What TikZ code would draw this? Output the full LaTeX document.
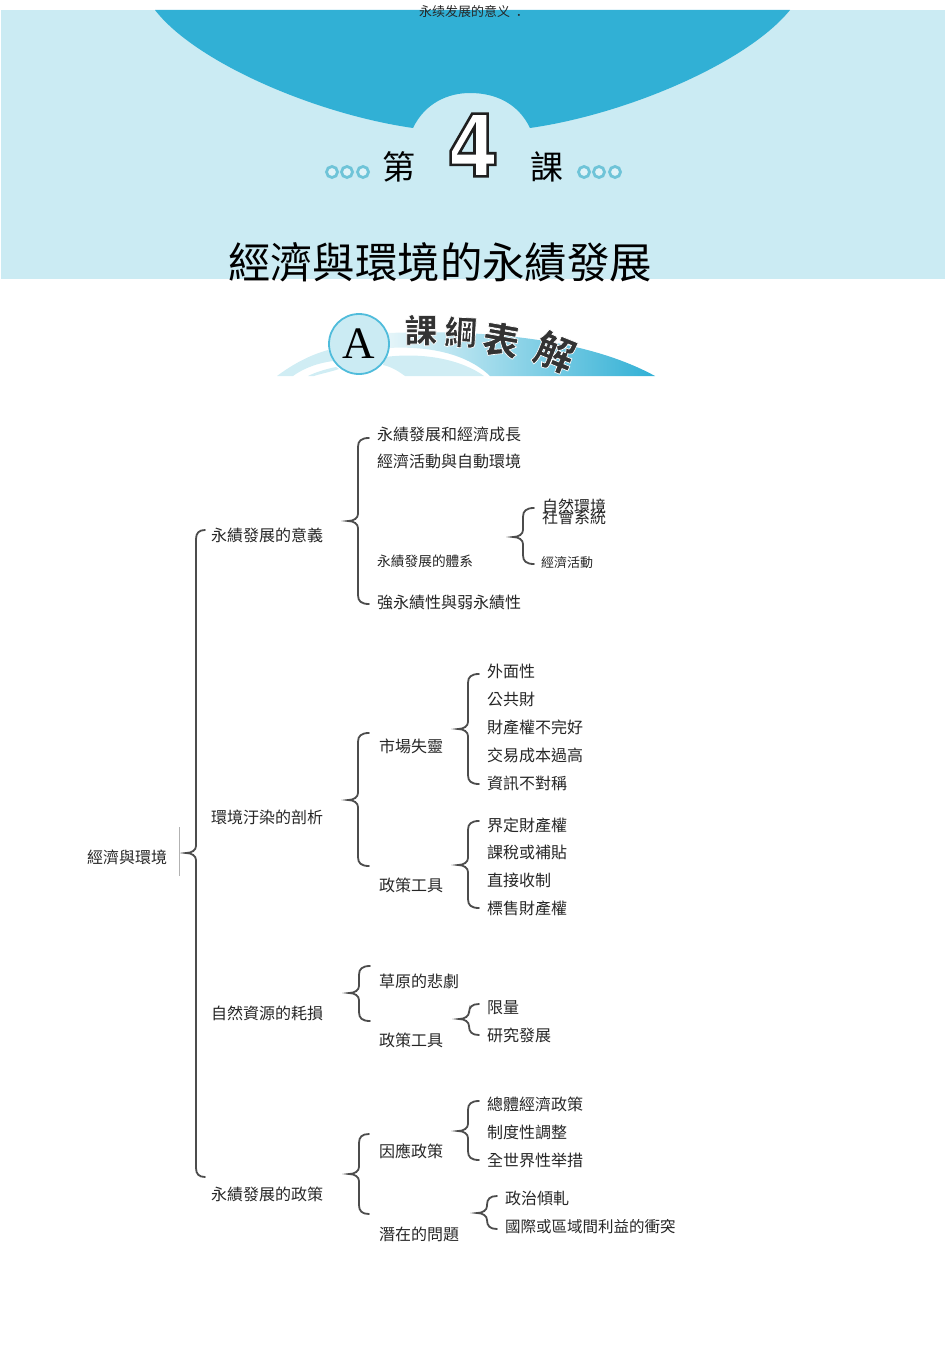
\documentclass[tikz,border=0pt]{standalone}
\usepackage{fontspec}
\setmainfont{Noto Sans CJK TC}
\newfontfamily\cjksimp{Noto Sans CJK SC}
\newfontfamily\digitfont[FakeStretch=0.86,UprightFont={* Bold}]{DejaVu Sans}
\newfontfamily\latinserif{Liberation Serif}
\usepackage{xcolor}
\definecolor{headbg}{HTML}{CBEBF3}
\definecolor{headarc}{HTML}{31B0D5}
\definecolor{ringcol}{HTML}{6FC4D8}
\newcommand{\outlinetxt}[4]{\special{pdf:code q 2 Tr #1 w #2 G #3 g}#4\special{pdf:code Q}}
\tikzset{
	lab/.style={anchor=west,inner sep=0pt,font=\fontsize{16}{16}\selectfont,text=black!85},
	bracket/.style={draw=black!70,line width=1.8pt,line cap=round},
	ringdot/.style={draw=ringcol,line width=2.8pt,fill=headbg!60!white},
}
\begin{document}
\begin{tikzpicture}[x=1pt,y=-1pt]
\useasboundingbox (0,0) rectangle (950,1359);
% header band
\fill[headbg] (1,10) rectangle (945,279);
\fill[headarc] (155,10) .. controls (195,62) and (315,114) .. (413,128)
	.. controls (425,103) and (448,93) .. (470,93)
	.. controls (495,93) and (518,103) .. (530,128)
	.. controls (628,114) and (748,62) .. (790,10) -- cycle;
\node[inner sep=0pt,font=\cjksimp\fontsize{13}{13}\selectfont,text=black!85] (runhead) at (474,11.5) {永续发展的意义\hspace{6pt}．};
\foreach \x in {332,347,363,584,599,615} {
	\draw[ringdot] (\x,172) circle (5.5pt);
}
\node[inner sep=0pt,font=\fontsize{33}{33}\selectfont] (di) at (399,167) {第};
\node[inner sep=0pt,font=\fontsize{33}{33}\selectfont] (ke) at (547,167) {課};
\node[inner sep=0pt,font=\digitfont\fontsize{86}{86}\selectfont] (num) at (473,145) {\outlinetxt{2.6}{0.12}{1}{4}};
\node[inner sep=0pt,font=\fontsize{42.4}{42.4}\selectfont] (title) at (440,262) {經濟與環境的永績發展};
% banner
\fill[headbg!90!white] (277,376) .. controls (293,364) and (310,355) .. (328,350) -- (333,361) .. controls (318,363) and (304,368) .. (293,376) -- cycle;
\fill[headbg!90!white] (308,376) .. controls (316,372) and (326,369) .. (336,367) -- (339,369) .. controls (330,372) and (320,374) .. (314,376) -- cycle;
\fill[headbg!90!white] (385,357) .. controls (425,352) and (462,360) .. (484,376) -- (405,376) .. controls (398,371) and (392,367) .. (383,365) -- cycle;
\shade[left color=headbg!50!white,right color=headarc] (388,333) .. controls (470,330) and (580,335) .. (655,376)
	-- (490,376) .. controls (465,352) and (425,346) .. (388,348) -- cycle;
\node[circle,draw=headarc!85!white,line width=1.8pt,fill=headbg,minimum size=60pt,inner sep=0pt,font=\latinserif\fontsize{45}{45}\selectfont] (badge) at (359,344) {A};
\node[inner sep=0pt,font=\fontsize{33}{33}\selectfont\bfseries] (ban1) at (421,330) {\outlinetxt{.7}{1}{.2}{課}};
\node[inner sep=0pt,font=\fontsize{33}{33}\selectfont\bfseries,rotate=-3] (ban2) at (461,332) {\outlinetxt{.7}{1}{.2}{綱}};
\node[inner sep=0pt,font=\fontsize{37}{37}\selectfont\bfseries,rotate=-10] (ban3) at (501,340) {\outlinetxt{.7}{1}{.2}{表}};
\node[inner sep=0pt,font=\fontsize{40}{40}\selectfont\bfseries,rotate=-22] (ban4) at (555,352) {\outlinetxt{.7}{1}{.2}{解}};
% braces: name/end x/spine x/top/tip/bottom
\foreach \bn/\ex/\sx/\ty/\my/\by in {
	main/205/196/530/853/1177,
	aa/369/358/438/521/604,ab/534/523/508/537/564,
	ba/369/358/733/800/866,bb/479/468/674/729/784,bc/479/468/821/865/908,
	ca/370/359/966/993/1021,cb/479/469/1004/1019/1035,
	da/369/359/1134/1174/1214,db/479/468/1101/1131/1160,dc/497/487/1196/1213/1229} {
	\coordinate (\bn top) at (\ex,\ty);
	\coordinate (\bn bot) at (\ex,\by);
	\draw[bracket] (\bn top) .. controls (\sx+3,\ty) and (\sx,\ty+3) .. (\sx,\ty+9)
		-- (\sx,\my-7) .. controls (\sx,\my-3) and (\sx-4,\my) .. (\sx-10,\my)
		.. controls (\sx-4,\my) and (\sx,\my+3) .. (\sx,\my+7)
		-- (\sx,\by-9) .. controls (\sx,\by-3) and (\sx+3,\by) .. (\bn bot);
}
\coordinate (rulea) at (179,827);
\coordinate (ruleb) at (179,876);
\draw[black!30,line width=.8pt] (rulea) -- (ruleb);
% labels
\node[lab] (root) at (87,857) {經濟與環境};
\foreach \n/\x/\y/\t in {
	sa/211/535/永績發展的意義,sb/211/817/環境汙染的剖析,sc/211/1013/自然資源的耗損,sd/211/1194/永績發展的政策,
	ta/377/434/永績發展和經濟成長,tb/377/461/經濟活動與自動環境,td/377/602/強永績性與弱永績性,
	ua/542/506/自然環境,ub/542/517/社會系統,
	ma/379/746/市場失靈,mb/379/885/政策工具,
	pa/487/671.5/外面性,pb/487/699.5/公共財,pc/487/727.5/財產權不完好,pd/487/755.5/交易成本過高,pe/487/783/資訊不對稱,
	qa/487/825/界定財產權,qb/487/852/課稅或補貼,qc/487/880/直接收制,qd/487/908/標售財產權,
	na/379/981/草原的悲劇,nb/379/1040/政策工具,ra/487/1008/限量,rb/487/1035/研究發展,
	ka/379/1151/因應政策,kb/379/1234/潛在的問題,
	va/487/1104/總體經濟政策,vb/487/1132/制度性調整,vc/487/1160/全世界性举措,
	wa/505/1198/政治傾軋} {
	\node[lab] (\n) at (\x,\y) {\t};
}
\node[lab,font=\fontsize{15.5}{16}\selectfont] (wb) at (505,1226.5) {國際或區域間利益的衝突};
\node[lab,font=\fontsize{13.7}{14}\selectfont] (tc) at (377,561) {永績發展的體系};
\node[lab,font=\fontsize{13}{13}\selectfont] (uc) at (541,563) {經濟活動};
\end{tikzpicture}
\end{document}
